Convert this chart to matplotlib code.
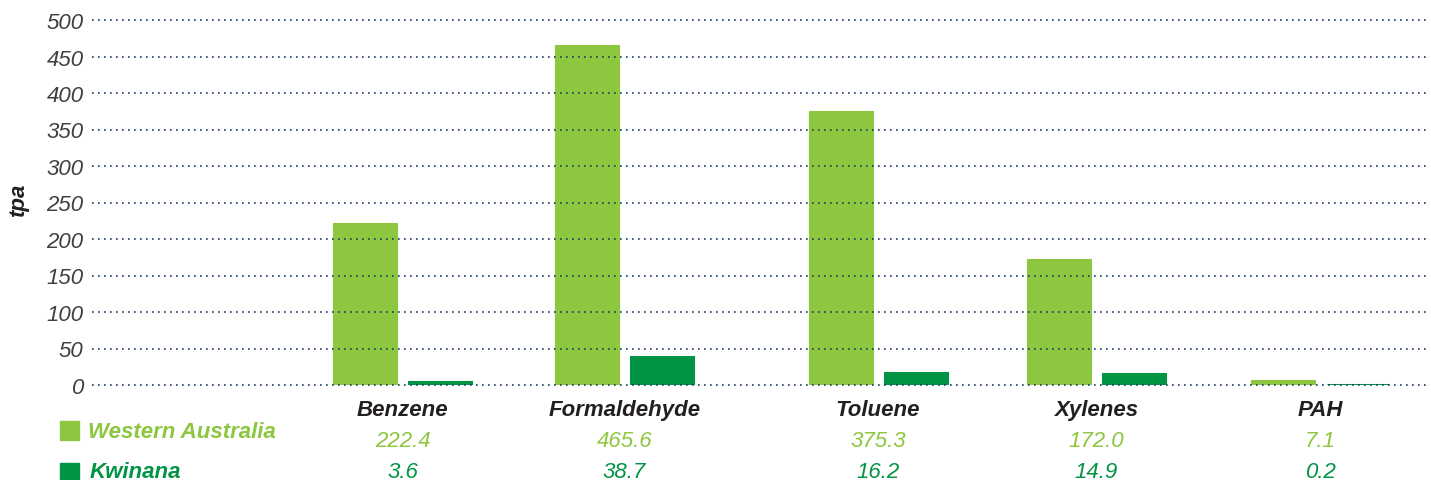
import matplotlib
matplotlib.use("Agg")
import matplotlib.pyplot as plt
import matplotlib.transforms as mtransforms
from matplotlib.patches import Rectangle

categories = ["Benzene", "Formaldehyde", "Toluene", "Xylenes", "PAH"]
series_names = ["Western Australia", "Kwinana"]
wa_values = [222.4, 465.6, 375.3, 172.0, 7.1]
kw_values = [3.6, 38.7, 16.2, 14.9, 0.2]
wa_labels = ["222.4", "465.6", "375.3", "172.0", "7.1"]
kw_labels = ["3.6", "38.7", "16.2", "14.9", "0.2"]
y_ticks = [0, 50, 100, 150, 200, 250, 300, 350, 400, 450, 500]

# layout (pixel-like x coordinates of column centres)
col_centers = [402.5, 624.5, 878, 1096, 1320]
bar_w = 64
offset = 37.5

LIGHT = "#8DC63F"
DARK = "#009444"
GRID = "#1C3A66"
TXT = "#231F20"
TICK = "#404040"

plt.rcParams['font.family'] = ['Liberation Sans', 'DejaVu Sans']

W, H = 1431, 481
fig = plt.figure(figsize=(W / 100, H / 100), dpi=100)
ax = fig.add_axes([92 / W, (H - 386) / H, (1430 - 92) / W, (386 - 21) / H])

ax.bar([c - offset for c in col_centers], wa_values, width=bar_w, color=LIGHT,
       edgecolor=LIGHT, linewidth=0.8, zorder=1)
ax.bar([c + offset for c in col_centers], kw_values, width=bar_w - 2, color=DARK,
       edgecolor=DARK, linewidth=2.2, zorder=1)

ax.set_xlim(92, 1430)
ax.set_ylim(0, 500)
ax.set_yticks(y_ticks)
ax.set_xticks([])
for s in ax.spines.values():
    s.set_visible(False)
ax.tick_params(axis='y', length=0, pad=6, labelsize=16, labelcolor=TICK)
for lab in ax.get_yticklabels():
    lab.set_fontstyle('italic')
for t in y_ticks:
    ax.axhline(t, color=GRID, lw=1.2, linestyle=(0, (1, 2.6)), zorder=3, clip_on=False)

fig.text(19 / W, 1 - 200 / H, "tpa", rotation=90, ha='center', va='center',
         fontsize=16, fontweight='bold', fontstyle='italic', color=TXT)

tr = mtransforms.blended_transform_factory(ax.transData, fig.transFigure)
for c, cat, wl, kl in zip(col_centers, categories, wa_labels, kw_labels):
    ax.text(c, 1 - 410.5 / H, cat, transform=tr, ha='center', va='center',
            fontsize=16, fontweight='bold', fontstyle='italic', color=TXT)
    ax.text(c, 1 - 441.5 / H, wl, transform=tr, ha='center', va='center',
            fontsize=16, fontstyle='italic', color=LIGHT)
    ax.text(c, 1 - 473 / H, kl, transform=tr, ha='center', va='center',
            fontsize=16, fontstyle='italic', color=DARK)

# legend column
fig.patches.append(Rectangle((60 / W, 1 - 441 / H), 19 / W, 19 / H,
                             transform=fig.transFigure, color=LIGHT))
fig.patches.append(Rectangle((60 / W, 1 - 483 / H), 19 / W, 19 / H,
                             transform=fig.transFigure, color=DARK))
fig.text(88 / W, 1 - 432.5 / H, series_names[0], ha='left', va='center',
         fontsize=16, fontweight='bold', fontstyle='italic', color=LIGHT)
fig.text(90 / W, 1 - 473 / H, series_names[1], ha='left', va='center',
         fontsize=16, fontweight='bold', fontstyle='italic', color=DARK)

fig.savefig("out.png", dpi=100)
